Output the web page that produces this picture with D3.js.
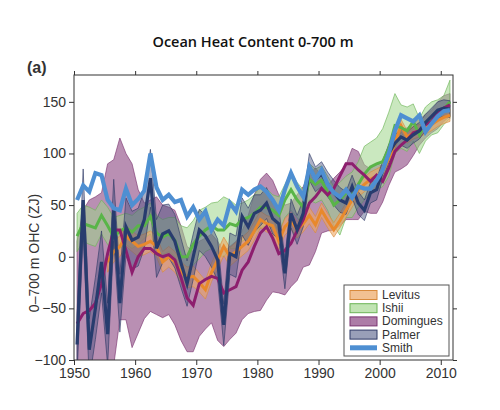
<!DOCTYPE html>
<html>
<head>
<meta charset="utf-8">
<script src="https://cdn.jsdelivr.net/npm/d3@7"></script>
<style>
  html, body { margin: 0; padding: 0; background: #fff; }
  svg { display: block; }
</style>
</head>
<body>
<svg id="chart" width="500" height="410"></svg>
<script>
// ---------------- DATA ----------------
const years = d3.range(1950, 2012);            // 1950 … 2011
const levitusYears = d3.range(1955, 2012);     // 1955 … 2011

const smith = [55,69,63,81,79,55,47,45,66,50, 56,64,100,67,55,60,53,55,39,48,
  36,44,26,36,30,52,44,65,60,65, 68,63,55,45,65,81,68,58,87,75,
  84,70,62,58,65,57,68,66,66,74, 84,100,122,137,134,131,137,121,129,136, 141,142];

const domingues = [-65,-55,-52,-45,-26,3,26,26,6,-15, 0,8,8,3,0,2,-3,-20,-40,-47,
  -26,-22,-19,-21,-35,-32,-29,-13,-5,10, 23,29,18,3,6,13,25,36,52,58,
  66,60,66,78,90,90,84,79,73,79, 73,86,102,108,113,120,122,128,131,140, 144,147];
const dominguesHi = [15,45,55,58,62,90,94,115,100,90, 65,52,55,58,50,48,45,30,10,5,
  15,18,22,15,5,10,15,25,40,60, 75,81,74,60,50,52,60,68,80,86,
  79,69,76,82,89,105,102,89,85,90, 88,100,115,122,125,130,133,138,142,150, 156,158];
const dominguesLo = [-130,-130,-130,-125,-120,-115,-105,-61,-61,-88, -74,-60,-53,-56,-59,-56,-66,-81,-92,-92,
  -77,-70,-64,-81,-87,-80,-74,-61,-55,-53, -52,-42,-34,-35,-37,-29,-23,-10,-8,5,
  23,25,26,30,36,36,36,44,42,42, 53,69,82,85,89,98,108,115,120,124, 131,136];

const palmer = [-85,55,-90,-50,-5,-75,45,-45,29,16, 19,36,76,8,22,25,15,-6,-26,0,
  26,20,10,-3,-66,3,0,39,29,42, 45,52,37,32,-16,42,26,42,87,75,
  80,70,62,55,52,68,52,45,62,65, 84,100,110,116,113,118,122,130,136,142, 144,143];
const palmerErr = [30,30,30,30,30,30,30,28,28,28, 28,28,28,28,28,26,26,24,22,22,
  20,20,20,20,20,20,20,18,18,18, 15,15,15,15,15,14,14,13,13,12,
  12,12,12,12,11,11,11,10,10,10, 9,9,8,8,8,8,8,8,8,8, 8,8];

const ishii = [20,32,30,28,40,30,19,25,28,24, 30,30,39,23,19,22,16,0,0,12,
  20,26,30,26,26,32,30,36,38,42, 48,48,45,40,55,65,55,48,75,70,
  74,62,50,55,62,60,70,80,87,90, 92,105,127,125,122,131,118,130,135,140, 143,150];
const ishiiHi = [42,50,48,45,55,48,38,40,42,40, 45,48,52,40,36,38,38,30,28,35,
  45,48,52,53,58,55,50,52,55,60, 68,66,60,58,70,82,72,65,90,85,
  88,78,68,72,78,82,92,107,111,115, 124,140,158,147,145,148,134,145,150,152, 156,171];
const ishiiLo = [5,15,12,10,22,12,2,8,12,8, 12,18,22,6,2,5,0,-15,-18,-8,
  -2,5,8,2,0,8,8,15,18,22, 28,30,28,22,38,45,38,30,55,52,
  55,45,30,21,38,38,48,55,62,65, 68,78,100,105,102,112,100,112,118,120, 128,134];

const levitus = [-5,5,10,20,15, 10,12,15,10,-5,0,-5,-15,-20,-19,
  -25,-32,-15,-3,10,0,5,10,15,25, 36,32,30,15,29,35,26,32,40,31,
  45,35,26,35,45,55,65,70,75,78, 82,95,110,127,116,120,122,125,128,132, 135,137];
const levitusErr = [10,10,10,10,10, 10,10,10,10,10,10,10,10,10,10,
  9,9,9,9,9,9,9,9,9,9, 8,8,8,8,8,8,8,8,8,8,
  7,7,7,7,7,7,7,7,7,7, 6,6,6,6,6,6,6,6,6,6, 6,6];

const yTicks = [-100, -50, 0, 50, 100, 150];
const xTicks = [1950, 1960, 1970, 1980, 1990, 2000, 2010];
const legendNames = ["Levitus", "Ishii", "Domingues", "Palmer", "Smith"];

// ---------------- CHART ----------------
const svg = d3.select("#chart");
const L = 74, R = 453, T = 75, B = 360;
const x = d3.scaleLinear().domain([1950, 2012]).range([L, R]);
const y = d3.scaleLinear().domain([-100, 176]).range([B, T]);

const font = "'Liberation Sans', Arial, Helvetica, sans-serif";

svg.append("defs").append("clipPath").attr("id", "clip")
  .append("rect").attr("x", L).attr("y", T).attr("width", R - L).attr("height", B - T);

const plot = svg.append("g").attr("clip-path", "url(#clip)");

const cols = {
  Levitus:   { fill: "#eda664", fillOp: 0.6, edge: "#d88a3c", line: "#e8892c" },
  Ishii:     { fill: "#9fd68a", fillOp: 0.55, edge: "#6bb355", line: "#59b548" },
  Domingues: { fill: "#8e4a85", fillOp: 0.62, edge: "#7a3470", line: "#8d1e6e" },
  Palmer:    { fill: "#46507e", fillOp: 0.45, edge: "#2f3a66", line: "#283c6e" },
  Smith:     { line: "#4e8fd2" }
};

function band(yrs, hi, lo, c) {
  const data = yrs.map((yr, i) => ({ yr, hi: hi[i], lo: lo[i] }));
  const area = d3.area().x(d => x(d.yr + 0.5)).y0(d => y(d.lo)).y1(d => y(d.hi));
  plot.append("path").datum(data).attr("d", area)
    .attr("fill", c.fill).attr("fill-opacity", c.fillOp)
    .attr("stroke", c.edge).attr("stroke-width", 0.8).attr("stroke-opacity", 0.8);
}
function line(yrs, vals, color, w) {
  const data = yrs.map((yr, i) => ({ yr, v: vals[i] }));
  const ln = d3.line().x(d => x(d.yr + 0.5)).y(d => y(d.v));
  plot.append("path").datum(data).attr("d", ln)
    .attr("fill", "none").attr("stroke", color).attr("stroke-width", w)
    .attr("stroke-linejoin", "miter").attr("stroke-miterlimit", 4);
}

band(years, dominguesHi, dominguesLo, cols.Domingues);
band(years, ishiiHi, ishiiLo, cols.Ishii);
band(levitusYears, levitus.map((v, i) => v + levitusErr[i]), levitus.map((v, i) => v - levitusErr[i]), cols.Levitus);
band(years, palmer.map((v, i) => v + palmerErr[i]), palmer.map((v, i) => v - palmerErr[i]), cols.Palmer);

line(levitusYears, levitus, cols.Levitus.line, 3);
line(years, ishii, cols.Ishii.line, 3);
line(years, domingues, cols.Domingues.line, 3);
line(years, palmer, cols.Palmer.line, 3.2);
line(years, smith, cols.Smith.line, 4.2);

// Axes
const axisColor = "#333";
const gL = svg.append("g").attr("transform", `translate(${L},0)`)
  .call(d3.axisLeft(y).tickValues(yTicks).tickSize(5).tickPadding(3));
const gB = svg.append("g").attr("transform", `translate(0,${B})`)
  .call(d3.axisBottom(x).tickValues(xTicks).tickFormat(d3.format("d")).tickSize(5).tickPadding(3));
const gT = svg.append("g").attr("transform", `translate(0,${T})`)
  .call(d3.axisTop(x).tickValues(xTicks).tickFormat("").tickSize(4));
const gR = svg.append("g").attr("transform", `translate(${R},0)`)
  .call(d3.axisRight(y).tickValues(yTicks).tickFormat("").tickSize(4));
[gL, gB, gT, gR].forEach(g => {
  g.select(".domain").remove();
  g.selectAll("line").attr("stroke", axisColor);
  g.selectAll("text").attr("fill", "#333").style("font-family", font).style("font-size", "14px");
});

svg.append("rect").attr("x", L).attr("y", T).attr("width", R - L).attr("height", B - T)
  .attr("fill", "none").attr("stroke", axisColor).attr("stroke-width", 1);

// Titles
svg.append("text").attr("x", 253).attr("y", 47).attr("text-anchor", "middle")
  .style("font-family", "'Open Sans', sans-serif").style("font-weight", 600).style("font-size", "14.5px")
  .attr("fill", "#111").text("Ocean Heat Content 0-700 m");
svg.append("text").attr("x", 27).attr("y", 73)
  .style("font-family", font).style("font-weight", "bold").style("font-size", "16px")
  .attr("fill", "#333").text("(a)");
svg.append("text").attr("transform", "translate(39,253) rotate(-90)").attr("text-anchor", "middle")
  .style("font-family", font).style("font-size", "14px").attr("fill", "#333")
  .text("0–700 m OHC (ZJ)");

// Legend
const lg = svg.append("g");
lg.append("rect").attr("x", 344).attr("y", 285).attr("width", 105).attr("height", 71)
  .attr("fill", "#fff").attr("stroke", "#555").attr("stroke-width", 1);
legendNames.forEach((name, i) => {
  const cy = 295 + i * 13.2;
  const c = cols[name];
  if (name === "Smith") {
    lg.append("rect").attr("x", 350).attr("y", cy - 2.5).attr("width", 27).attr("height", 5)
      .attr("fill", c.line);
  } else {
    lg.append("rect").attr("x", 350).attr("y", cy - 4.5).attr("width", 27).attr("height", 9)
      .attr("fill", c.fill).attr("fill-opacity", c.fillOp + 0.1)
      .attr("stroke", c.edge).attr("stroke-width", 1);
  }
  lg.append("text").attr("x", 382).attr("y", cy + 4)
    .style("font-family", font).style("font-size", "12px").attr("fill", "#333").text(name);
});
</script>
</body>
</html>
